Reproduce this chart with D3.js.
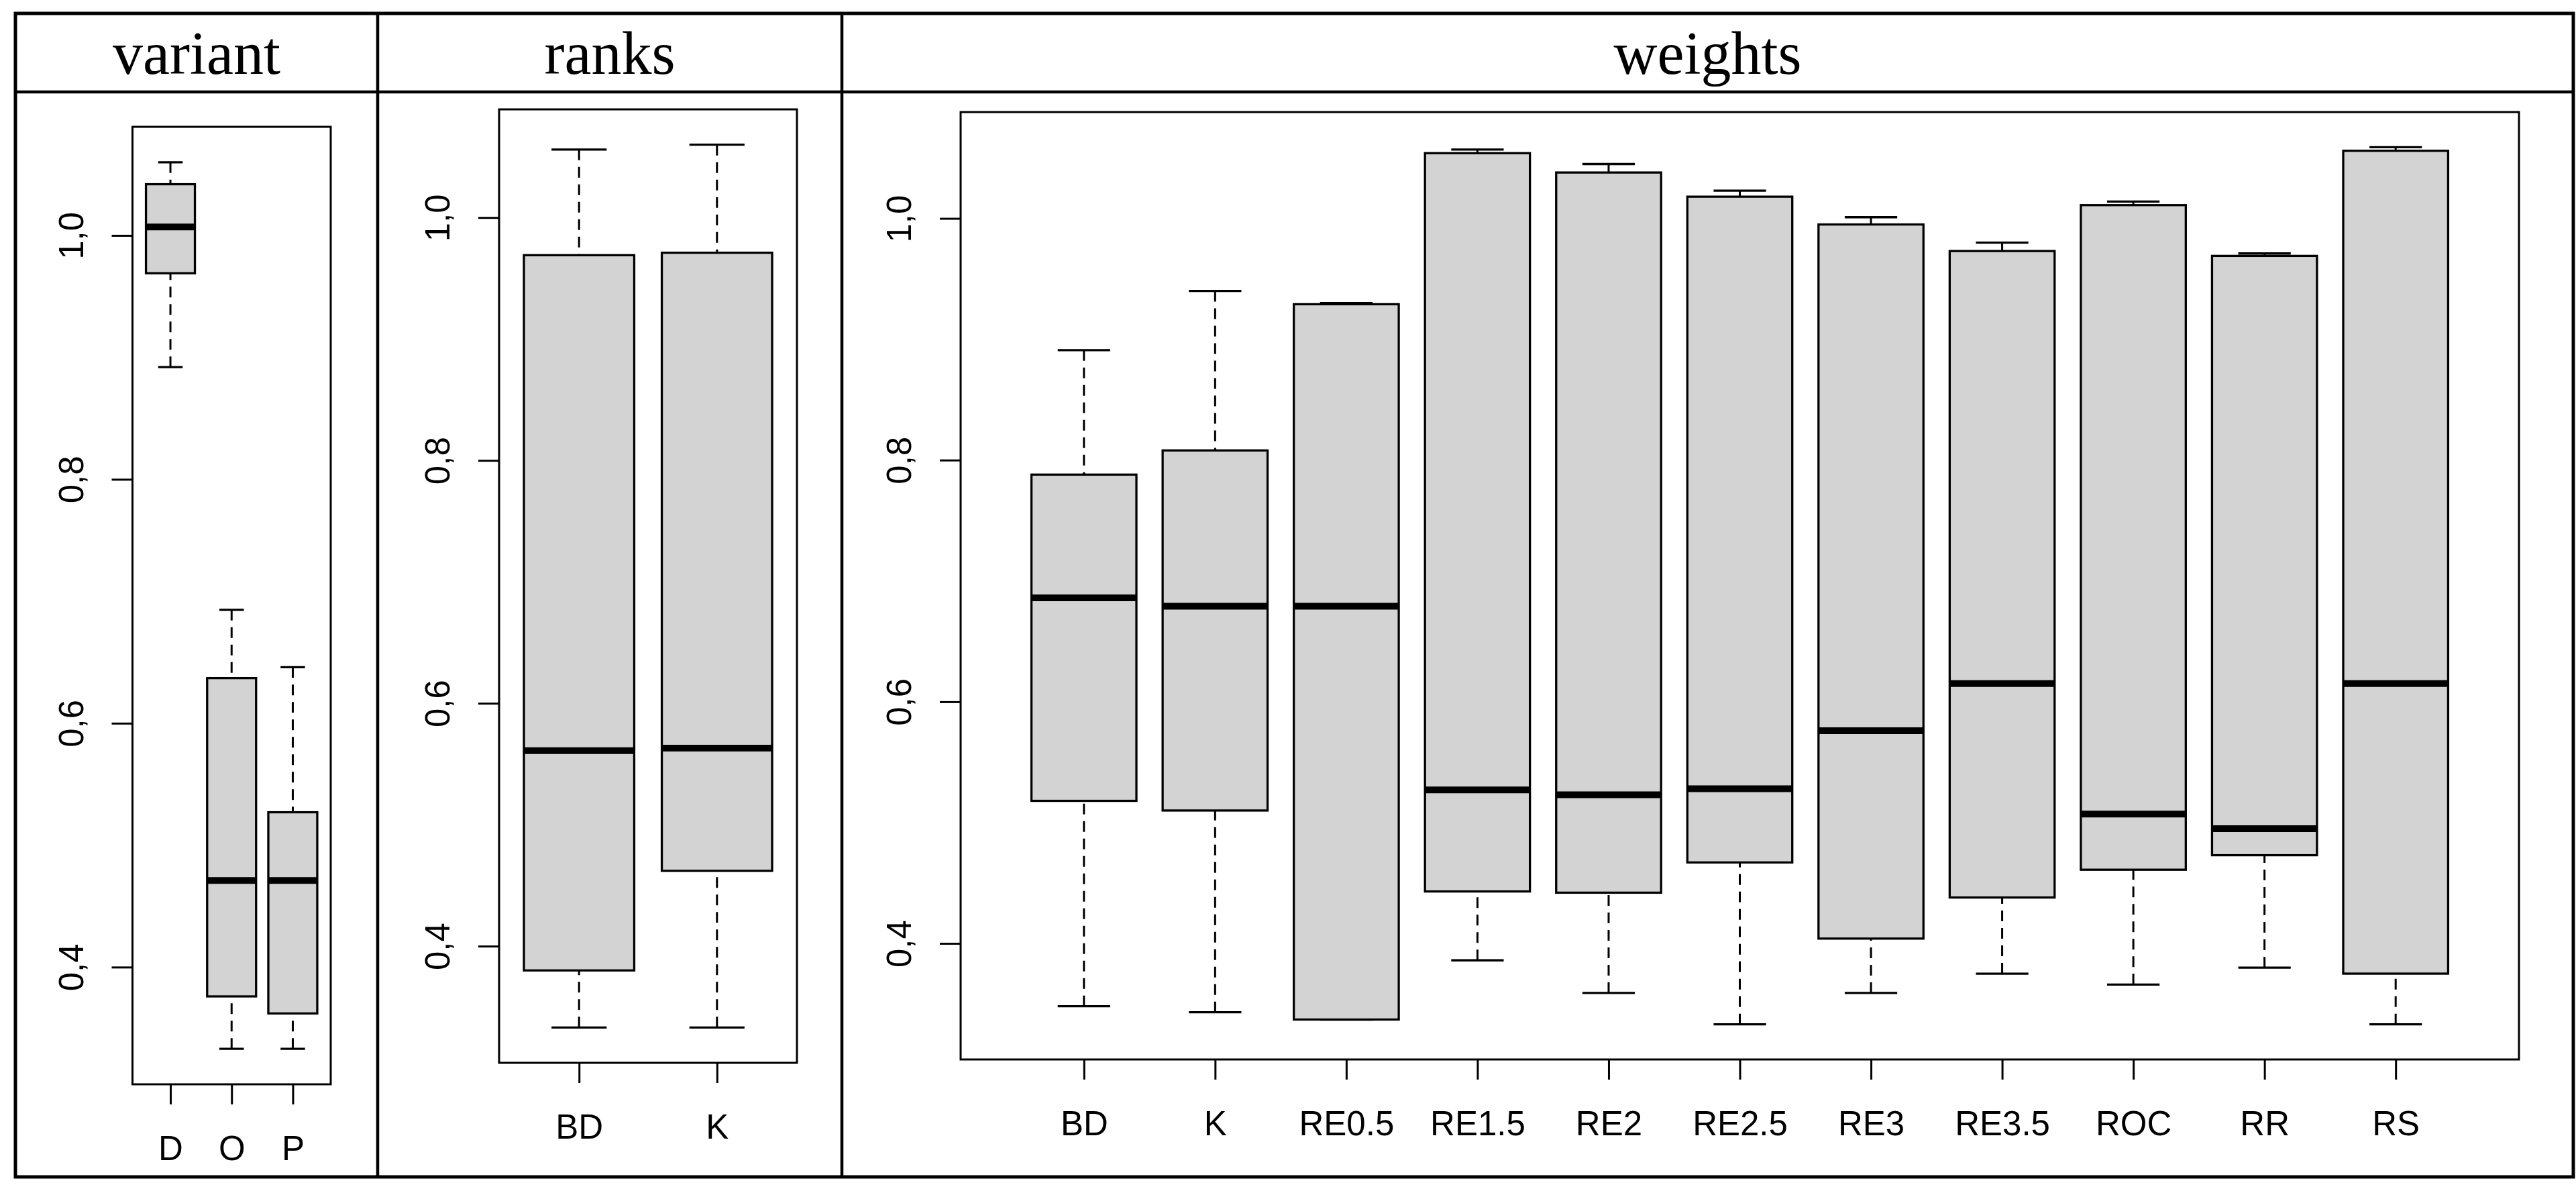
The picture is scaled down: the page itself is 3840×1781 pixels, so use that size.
<!DOCTYPE html>
<html>
<head>
<meta charset="utf-8">
<script src="https://cdn.jsdelivr.net/npm/d3@7"></script>
<style>
  html, body { margin: 0; padding: 0; background: #fff; }
  svg { display: block; }
</style>
</head>
<body>
<svg id="chart"></svg>
<script>
  // five-number summaries: [lower whisker, Q1, median, Q3, upper whisker]
  const variantGroups = ["D", "O", "P"];
  const variantStats = [
    [0.892, 0.969, 1.007, 1.042, 1.060],
    [0.333, 0.376, 0.471, 0.637, 0.693],
    [0.333, 0.362, 0.471, 0.527, 0.646]
  ];

  const rankGroups = ["BD", "K"];
  const rankStats = [
    [0.333, 0.380, 0.561, 0.969, 1.056],
    [0.333, 0.462, 0.563, 0.971, 1.060]
  ];

  const weightGroups = ["BD", "K", "RE0.5", "RE1.5", "RE2", "RE2.5", "RE3", "RE3.5", "ROC", "RR", "RS"];
  const weightStats = [
    [0.348, 0.518, 0.686, 0.788, 0.891],
    [0.343, 0.510, 0.679, 0.808, 0.940],
    [0.337, 0.337, 0.679, 0.929, 0.930],
    [0.386, 0.443, 0.527, 1.054, 1.057],
    [0.359, 0.442, 0.523, 1.038, 1.045],
    [0.333, 0.467, 0.528, 1.018, 1.023],
    [0.359, 0.404, 0.576, 0.995, 1.001],
    [0.375, 0.438, 0.615, 0.973, 0.980],
    [0.366, 0.461, 0.507, 1.011, 1.014],
    [0.380, 0.473, 0.495, 0.969, 0.971],
    [0.333, 0.375, 0.615, 1.056, 1.059]
  ];

  const yTicks = [0.4, 0.6, 0.8, 1.0];
  const titles = ["variant", "ranks", "weights"];

  const W = 3840;
  const H = 1781;
  const BOX_FILL = "#d3d3d3";
  const SANS = '"Liberation Sans", Arial, sans-serif';
  const SERIF = '"Liberation Serif", "Times New Roman", serif';

  const fmt = d3.formatLocale({ decimal: ",", thousands: ".", grouping: [3], currency: ["", ""] }).format(".1f");

  const svg = d3.select("#chart")
    .attr("width", W)
    .attr("height", H)
    .attr("viewBox", `0 0 ${W} ${H}`);

  svg.append("rect").attr("width", W).attr("height", H).attr("fill", "#fff");

  // table layout: column edges and the plot frame in each cell
  const table = { left: 23, right: 3836, top: 20, bottom: 1754, headerLine: 137 };
  const columns = [23, 563, 1255, 3836];

  const panels = [
    { groups: variantGroups, stats: variantStats, frame: { x0: 197.5, x1: 493, y0: 189, y1: 1616 } },
    { groups: rankGroups, stats: rankStats, frame: { x0: 744, x1: 1188, y0: 163, y1: 1584 } },
    { groups: weightGroups, stats: weightStats, frame: { x0: 1432, x1: 3755, y0: 167, y1: 1579 } }
  ];

  panels.forEach(drawPanel);
  drawTable();

  function drawPanel(p) {
    const n = p.groups.length;
    const padX = 0.04 * n;
    const x = d3.scaleLinear()
      .domain([0.5 - padX, n + 0.5 + padX])
      .range([p.frame.x0, p.frame.x1]);

    const all = p.stats.flat();
    const lo = d3.min(all);
    const hi = d3.max(all);
    const padY = (hi - lo) * 0.04;
    const y = d3.scaleLinear()
      .domain([lo - padY, hi + padY])
      .range([p.frame.y1, p.frame.y0]);

    const g = svg.append("g");

    // boxes
    const box = g.selectAll("g.box")
      .data(p.stats)
      .enter()
      .append("g")
      .attr("class", "box");

    const halfBox = (x(1.4) - x(1)) ;
    const halfStaple = (x(1.2) - x(1));

    // whiskers are drawn from the whisker end towards the box, like R does
    box.append("line")
      .attr("x1", (d, i) => x(i + 1)).attr("x2", (d, i) => x(i + 1))
      .attr("y1", (d) => y(d[0])).attr("y2", (d) => y(d[1]))
      .attr("stroke", "#000").attr("stroke-width", 3).attr("stroke-dasharray", "16 10");
    box.append("line")
      .attr("x1", (d, i) => x(i + 1)).attr("x2", (d, i) => x(i + 1))
      .attr("y1", (d) => y(d[4])).attr("y2", (d) => y(d[3]))
      .attr("stroke", "#000").attr("stroke-width", 3).attr("stroke-dasharray", "16 10");

    [0, 4].forEach((k) => {
      box.append("line")
        .attr("x1", (d, i) => x(i + 1) - halfStaple).attr("x2", (d, i) => x(i + 1) + halfStaple)
        .attr("y1", (d) => y(d[k])).attr("y2", (d) => y(d[k]))
        .attr("stroke", "#000").attr("stroke-width", 3.3);
    });

    box.append("rect")
      .attr("x", (d, i) => x(i + 1) - halfBox)
      .attr("width", halfBox * 2)
      .attr("y", (d) => y(d[3]))
      .attr("height", (d) => y(d[1]) - y(d[3]))
      .attr("fill", BOX_FILL)
      .attr("stroke", "#000")
      .attr("stroke-width", 3.3);

    box.append("line")
      .attr("x1", (d, i) => x(i + 1) - halfBox).attr("x2", (d, i) => x(i + 1) + halfBox)
      .attr("y1", (d) => y(d[2])).attr("y2", (d) => y(d[2]))
      .attr("stroke", "#000").attr("stroke-width", 10);

    // plot frame
    g.append("rect")
      .attr("x", p.frame.x0).attr("y", p.frame.y0)
      .attr("width", p.frame.x1 - p.frame.x0)
      .attr("height", p.frame.y1 - p.frame.y0)
      .attr("fill", "none").attr("stroke", "#000").attr("stroke-width", 3);

    // y axis
    const yAxis = g.append("g")
      .attr("transform", `translate(${p.frame.x0},0)`)
      .call(d3.axisLeft(y).tickValues(yTicks).tickSize(31).tickSizeOuter(0).tickFormat(fmt));
    yAxis.select(".domain").remove();
    yAxis.selectAll(".tick line").attr("stroke", "#000").attr("stroke-width", 3);
    yAxis.selectAll(".tick text")
      .attr("transform", "rotate(-90)")
      .attr("x", 0).attr("y", -74).attr("dy", 0)
      .attr("text-anchor", "middle")
      .attr("fill", "#000")
      .style("font-family", SANS).style("font-size", "51px");

    // x axis
    const xAxis = g.append("g")
      .attr("transform", `translate(0,${p.frame.y1})`)
      .call(d3.axisBottom(x).tickValues(d3.range(1, n + 1)).tickSize(30).tickSizeOuter(0)
        .tickFormat((i) => p.groups[i - 1]));
    xAxis.select(".domain").remove();
    xAxis.selectAll(".tick line").attr("stroke", "#000").attr("stroke-width", 3);
    xAxis.selectAll(".tick text")
      .attr("y", 113).attr("dy", 0)
      .attr("fill", "#000")
      .style("font-family", SANS).style("font-size", "51px");
  }

  function drawTable() {
    const t = svg.append("g");
    t.append("rect")
      .attr("x", table.left).attr("y", table.top)
      .attr("width", table.right - table.left)
      .attr("height", table.bottom - table.top)
      .attr("fill", "none").attr("stroke", "#000").attr("stroke-width", 5);

    t.append("line")
      .attr("x1", table.left).attr("x2", table.right)
      .attr("y1", table.headerLine).attr("y2", table.headerLine)
      .attr("stroke", "#000").attr("stroke-width", 4.5);

    columns.slice(1, -1).forEach((cx) => {
      t.append("line")
        .attr("x1", cx).attr("x2", cx)
        .attr("y1", table.top).attr("y2", table.bottom)
        .attr("stroke", "#000").attr("stroke-width", 4.5);
    });

    t.selectAll("text.title")
      .data(titles)
      .enter()
      .append("text")
      .attr("class", "title")
      .attr("x", (d, i) => (columns[i] + columns[i + 1]) / 2)
      .attr("y", 110)
      .attr("text-anchor", "middle")
      .attr("fill", "#000")
      .style("font-family", SERIF)
      .style("font-size", "90px")
      .text((d) => d);
  }
</script>
</body>
</html>
